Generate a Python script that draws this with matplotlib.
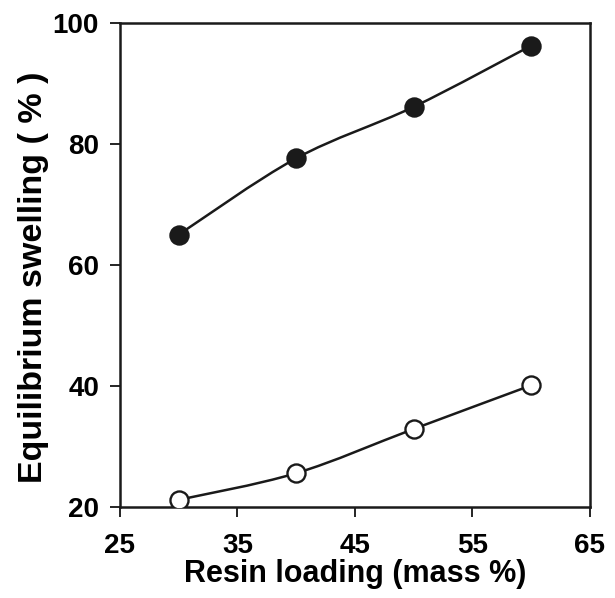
import matplotlib
matplotlib.use("Agg")
import matplotlib.pyplot as plt
from matplotlib.path import Path
from matplotlib.patches import PathPatch

# values
resin_loading = [30, 40, 50, 60]
swelling_filled = [65.0, 77.6, 86.1, 96.2]
swelling_open = [21.2, 25.6, 32.9, 40.1]

x_ticks = [25, 35, 45, 55, 65]
y_ticks = [20, 40, 60, 80, 100]

plt.rcParams["font.family"] = ["Liberation Sans", "DejaVu Sans"]
plt.rcParams["font.weight"] = "bold"


def smooth_path(xs, ys):
    # Catmull-Rom curve through the points, written as cubic Bezier segments
    pts = list(zip(xs, ys))
    verts = [pts[0]]
    codes = [Path.MOVETO]
    for i in range(len(pts) - 1):
        p0 = pts[i - 1] if i > 0 else pts[i]
        p1 = pts[i]
        p2 = pts[i + 1]
        p3 = pts[i + 2] if i + 2 < len(pts) else pts[i + 1]
        c1 = (p1[0] + (p2[0] - p0[0]) / 6, p1[1] + (p2[1] - p0[1]) / 6)
        c2 = (p2[0] - (p3[0] - p1[0]) / 6, p2[1] - (p3[1] - p1[1]) / 6)
        verts += [c1, c2, p2]
        codes += [Path.CURVE4] * 3
    return Path(verts, codes)


fig = plt.figure(figsize=(6.15, 5.98), dpi=100)
ax = fig.add_axes([0.195, 0.152, 0.764, 0.810])

for ys, face in [(swelling_filled, "#1a1a1a"), (swelling_open, "white")]:
    ax.add_patch(PathPatch(smooth_path(resin_loading, ys), facecolor="none",
                           edgecolor="#1a1a1a", lw=1.8, zorder=2))
    ax.plot(resin_loading, ys, linestyle="none", marker="o", markersize=13,
            markerfacecolor=face, markeredgecolor="#1a1a1a", markeredgewidth=1.7,
            zorder=3)

ax.set_xlim(25, 65)
ax.set_ylim(20, 100)
ax.set_xticks(x_ticks)
ax.set_yticks(y_ticks)
ax.tick_params(axis="both", direction="out", length=7, width=1.2, labelsize=20)
ax.tick_params(axis="x", pad=12)
ax.tick_params(axis="y", pad=8)
for s in ax.spines.values():
    s.set_linewidth(1.8)
    s.set_color("#1a1a1a")

ax.set_xlabel("Resin loading (mass %)", fontsize=22, fontweight="bold", labelpad=0)
ax.set_ylabel("Equilibrium swelling ( % )", fontsize=24.5, fontweight="bold")
ax.yaxis.set_label_coords(-0.15, 0.474)

fig.savefig("out.png", dpi=100)
plt.close(fig)
